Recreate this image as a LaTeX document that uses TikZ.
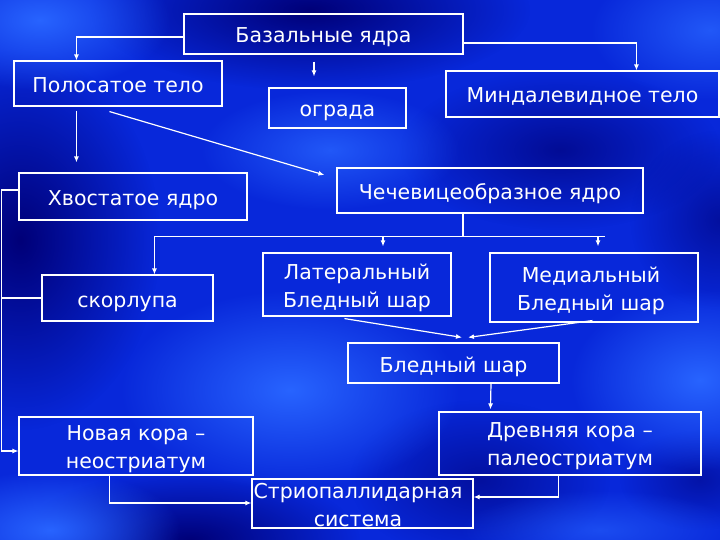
\documentclass[tikz,border=0pt]{standalone}
\usepackage{fontspec}
\setmainfont{DejaVu Sans}
\usetikzlibrary{arrows.meta,calc,fadings}
\tikzfading[name=softblob, inner color=transparent!0, outer color=transparent!100]
\definecolor{bgbase}{RGB}{8,40,218}
\definecolor{bgdark}{RGB}{0,0,120}
\definecolor{bgbright}{RGB}{40,100,255}
\begin{document}
\begin{tikzpicture}[x=1pt,y=-1pt,
  box/.style={draw=white, line width=1.1pt, text=white, align=center, inner sep=0pt,
    text height=19pt, text depth=1pt, font=\fontsize{20.5}{28}\selectfont},
  txt/.style={text=white, align=center, inner sep=0pt, font=\fontsize{20.5}{28}\selectfont},
  arr/.style={draw=white, line width=1.2pt, -{Latex[length=6pt,width=5pt]}},
  ln/.style={draw=white, line width=1.2pt},
  blob/.style={path fading=softblob}]
\useasboundingbox (0,0) rectangle (720,540);
% background
\fill[bgbase] (0,0) rectangle (720,540);
\begin{scope}
\clip (0,0) rectangle (720,540);
\fill[bgdark, blob] (20,240) ellipse [x radius=140pt, y radius=190pt];
\fill[bgdark, blob] (310,10) ellipse [x radius=220pt, y radius=80pt];
\fill[bgdark, blob] (190,540) ellipse [x radius=170pt, y radius=70pt];
\fill[bgdark, blob, opacity=0.7] (560,150) ellipse [x radius=160pt, y radius=80pt];
\fill[bgdark, blob, opacity=0.6] (720,220) ellipse [x radius=90pt, y radius=90pt];
\fill[bgdark, blob, opacity=0.6] (480,480) ellipse [x radius=130pt, y radius=80pt];
\fill[bgdark, blob, opacity=0.5] (700,480) ellipse [x radius=80pt, y radius=50pt];
\fill[bgbright, blob] (290,390) ellipse [x radius=170pt, y radius=100pt];
\fill[bgbright, blob] (700,380) ellipse [x radius=130pt, y radius=90pt];
\fill[bgbright, blob] (40,20) ellipse [x radius=130pt, y radius=70pt];
\fill[bgbright, blob] (50,530) ellipse [x radius=130pt, y radius=60pt];
\fill[bgbright, blob, opacity=0.8] (330,150) ellipse [x radius=130pt, y radius=60pt];
\fill[bgbright, blob, opacity=0.8] (710,30) ellipse [x radius=120pt, y radius=70pt];
\fill[bgbright, blob, opacity=0.6] (600,530) ellipse [x radius=140pt, y radius=40pt];
\end{scope}
% boxes
\node[box, minimum width=279pt, minimum height=40pt] (baz) at (323.5,34) {Базальные ядра};
\node[box, minimum width=208pt, minimum height=45pt] (pol) at (118,83.5) {Полосатое тело};
\node[box, minimum width=137pt, minimum height=40pt] (ogr) at (337.5,108) {ограда};
\node[box, minimum width=273pt, minimum height=46pt] (mind) at (582.5,94) {Миндалевидное тело};
\node[box, minimum width=228pt, minimum height=47pt] (hvo) at (133,196.5) {Хвостатое ядро};
\node[box, minimum width=306pt, minimum height=45pt] (che) at (490,190.5) {Чечевицеобразное ядро};
\node[box, minimum width=171pt, minimum height=46pt] (skor) at (127.5,298) {скорлупа};
\node[box, minimum width=188pt, minimum height=63pt] (lat) at (357,284.5) {};
\node[txt] (latt) at ($(lat.center)+(0,3)$) {Латеральный\\Бледный шар};
\node[box, minimum width=208pt, minimum height=69pt] (med) at (594,287.5) {};
\node[txt] (medt) at ($(med.center)+(-3,3)$) {Медиальный\\Бледный шар};
\node[box, minimum width=211pt, minimum height=40pt] (bled) at (453.5,363) {Бледный шар};
\node[box, minimum width=262pt, minimum height=63pt] (drev) at (570,443.5) {};
\node[txt] (drevt) at ($(drev.center)+(0,3)$) {Древняя кора –\\палеостриатум};
\node[box, minimum width=234pt, minimum height=58pt] (nov) at (136,446) {};
\node[txt] (novt) at ($(nov.center)+(0,3)$) {Новая кора –\\неостриатум};
\node[box, minimum width=221pt, minimum height=49pt] (strio) at (362.5,503.5) {};
\node[txt] (striot) at ($(strio.center)+(-4.5,1.5)$) {Стриопаллидарная\\система};
% connectors
\draw[arr] ($(baz.west)+(0,3)$) -| ($(pol.north west)+(63,0)$);
\draw[arr] ($(baz.south)+(-9.5,7)$) -- ($(ogr.north)+(-23.5,-11)$);
\draw[arr] ($(baz.east)+(0,9)$) -| ($(mind.north west)+(191,0)$);
\draw[arr] ($(pol.south west)+(63,4)$) -- ($(hvo.north west)+(58,-10)$);
\draw[arr] ($(pol.south west)+(96,5)$) -- ($(che.west)+(-12,-15.5)$);
% left bus
\coordinate (busx) at (1.5,0);
\draw[arr] ($(hvo.west)+(0,-6.5)$) -| ($(busx |- nov.west)+(0,5)$) -- ($(nov.west)+(0,5)$);
\draw[ln] (skor.west) -- (skor.west -| busx);
% lentiform bus
\draw[ln] ($(che.south)+(-27,0)$) -- ++(0,23) coordinate (lb);
\coordinate (s1) at ($(skor.north west)+(113,0)$);
\coordinate (l1) at ($(lat.north)+(26,-6)$);
\coordinate (m1) at ($(med.north)+(4,-6)$);
\draw[ln] (s1 |- lb) -- ($(m1 |- lb)+(7,0)$);
\draw[arr] (s1 |- lb) -- (s1);
\draw[arr] (l1 |- lb) -- (l1);
\draw[arr] (m1 |- lb) -- (m1);
% to pale globe
\draw[arr] ($(lat.south west)+(82,2)$) -- ($(bled.north)+(8.5,-5)$);
\draw[arr] ($(med.south west)+(103,-2)$) -- ($(bled.north)+(14.5,-5)$);
\draw[arr] ($(bled.south)+(37.5,0)$) -- ($(drev.north west)+(52,-2)$);
\draw[arr] ($(drev.south west)+(120,0)$) |- ($(strio.east)+(0,-6.5)$);
\draw[arr] ($(nov.south west)+(91,0)$) |- ($(strio.west)+(0,-0.5)$);
\end{tikzpicture}
\end{document}
